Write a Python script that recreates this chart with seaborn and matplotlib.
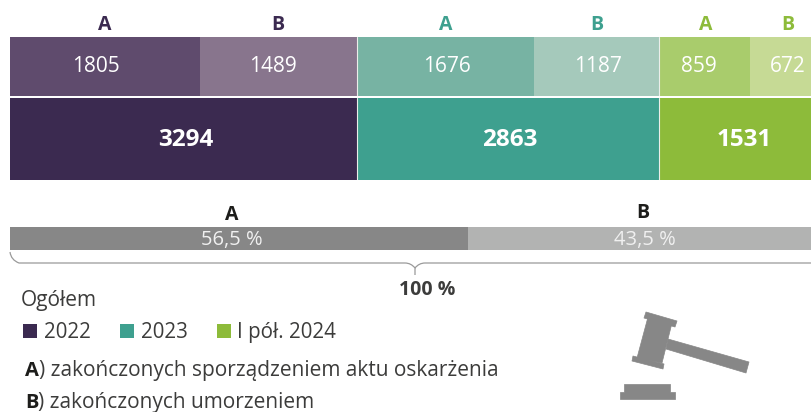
import matplotlib
matplotlib.use('Agg')
import matplotlib.pyplot as plt
import numpy as np
import seaborn as sns
from matplotlib.patches import PathPatch, Polygon, Rectangle
from matplotlib.path import Path

W, H = 812, 412

years = ['2022', '2023', 'I pół. 2024']
totals = [3294, 2863, 1531]
part_a = [1805, 1676, 859]
part_b = [1489, 1187, 672]
shares = [56.5, 43.5]

dark = ['#3B2A50', '#3EA08F', '#8DBB3A']
col_a = ['#5F4B6D', '#77B3A3', '#A9CC6C']
col_b = ['#88758D', '#A5C9BB', '#C6DA95']
grey = ['#878787', '#B2B3B2']

sns.set_theme(style='white')
plt.rcParams['font.family'] = ['Open Sans', 'DejaVu Sans']

fig = plt.figure(figsize=(W / 100, H / 100), dpi=100)


def row_axes(top, bottom):
    ax = fig.add_axes([10 / W, 1 - bottom / H, (W - 10) / W, (bottom - top) / H])
    ax.axis('off')
    return ax


def stacked(ax, values, colors, name, xmax):
    left = 0
    for v, c in zip(values, colors):
        sns.barplot(x=[v], y=[name], left=left, color=c, width=1, saturation=1,
                    linewidth=0, ax=ax)
        left += v
    ax.set_xlim(0, xmax)
    ax.set_ylim(0.5, -0.5)


# 802 px of bar area at about 0.1055 px per case
xmax = 7605
ax_top = row_axes(37, 95.5)
seq = []
seq_col = []
for i in range(3):
    seq += [part_a[i], part_b[i]]
    seq_col += [col_a[i], col_b[i]]
stacked(ax_top, seq, seq_col, 'parts', xmax)

ax_mid = row_axes(97.5, 179.5)
stacked(ax_mid, totals, dark, 'total', xmax)

# thin light line between the years
for ax in [ax_top, ax_mid]:
    for x in np.cumsum(totals)[:2]:
        ax.axvline(x, color='#ECEEEA', lw=0.8)

ax_low = row_axes(227, 250)
stacked(ax_low, shares, grey, 'share', 100 * xmax / sum(totals))

# overlay in pixels for the text, bracket and icon
ov = fig.add_axes([0, 0, 1, 1])
ov.set_xlim(0, W)
ov.set_ylim(H, 0)
ov.axis('off')
ov.patch.set_alpha(0)


def txt(x, y, s, size=14, color='#3C3C3B', weight='normal', ha='center'):
    # Open Sans sits a bit high with va=center
    ov.text(x, y + 1.5, s, fontsize=size, color=color, fontweight=weight, ha=ha, va='center')


head_x = [105, 278, 446, 597, 706, 788]
for i, x in enumerate(head_x):
    txt(x, 23.5, 'AB'[i % 2], 14, dark[i // 2], 'bold')

for x, v in zip([96, 273, 447, 598, 699, 788], seq):
    txt(x, 64.5, str(v), 15, 'white')
for x, v in zip([186, 510, 744], totals):
    txt(x, 139, str(v), 17.5, 'white', 'bold')

txt(232, 213, 'A', 14, '#1D1D1B', 'bold')
txt(643, 211, 'B', 14, '#1D1D1B', 'bold')
for x, v in zip([232, 645], shares):
    txt(x, 238.5, f'{v} %'.replace('.', ','), 14.5, '#F0F0F0')
txt(427, 288.5, '100 %', 14, '#3C3C3B', 'bold')

# bracket under the grey bar
verts = [(10, 252), (11, 260), (19, 263), (405, 263), (411, 263), (415, 268), (415, 275),
         (415, 268), (419, 263), (425, 263), (812, 263)]
codes = [Path.MOVETO, Path.CURVE3, Path.CURVE3, Path.LINETO, Path.CURVE3, Path.CURVE3, Path.LINETO,
         Path.MOVETO, Path.CURVE3, Path.CURVE3, Path.LINETO]
ov.add_patch(PathPatch(Path(verts, codes), fill=False, ec='#9A9A9A', lw=0.9))

# legend
txt(21, 299, 'Ogółem', 15, ha='left')
for x0, c, xt, y in zip([23.5, 120, 217], dark, [44, 141, 237], years):
    ov.add_patch(Rectangle((x0, 324), 14, 14, color=c, lw=0))
    txt(xt, 331, y, 14.8, ha='left')
txt(25, 369, 'A', 14.5, '#1D1D1B', 'bold', 'left')
txt(39.5, 369, ') zakończonych sporządzeniem aktu oskarżenia', 15, ha='left')
txt(25, 401, 'B', 14.5, '#1D1D1B', 'bold', 'left')
txt(38, 401, ') zakończonych umorzeniem', 15, ha='left')

# gavel
gavel = [
    [(646, 312), (677, 321), (675, 327), (644, 318)],
    [(648, 317), (672, 323), (662, 363), (637, 358)],
    [(633, 356), (664, 364), (663, 369), (632, 361)],
    [(668, 339), (749, 362), (746, 373), (666, 349)],
    [(624, 384), (670, 384), (670, 392), (675, 392), (675, 399), (620, 399), (620, 392), (624, 392)],
]
for g in gavel:
    ov.add_patch(Polygon(g, closed=True, fc='#878787', ec='#878787', lw=0.5, joinstyle='round'))

fig.savefig('out.png', dpi=100)
